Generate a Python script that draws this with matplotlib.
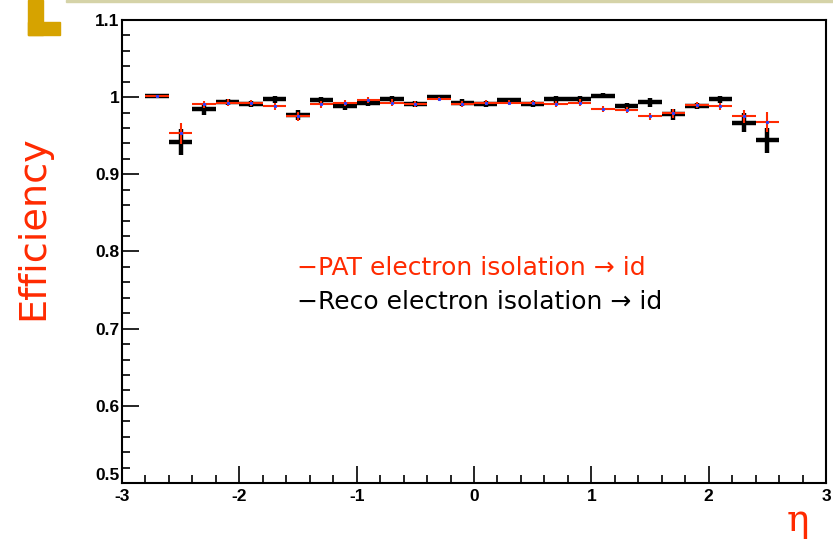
import matplotlib
matplotlib.use('Agg')
import matplotlib.pyplot as plt
from matplotlib.patches import Rectangle
from matplotlib.ticker import MultipleLocator

# eta bin centres (bin width 0.2)
eta = [-2.7, -2.5, -2.3, -2.1, -1.9, -1.7, -1.5, -1.3, -1.1, -0.9, -0.7, -0.5, -0.3, -0.1,
       0.1, 0.3, 0.5, 0.7, 0.9, 1.1, 1.3, 1.5, 1.7, 1.9, 2.1, 2.3, 2.5]

pat_eff = [1.001, 0.953, 0.9905, 0.993, 0.992, 0.988, 0.975, 0.9905, 0.992, 0.996, 0.993,
           0.991, 0.9975, 0.991, 0.993, 0.993, 0.993, 0.991, 0.993, 0.985, 0.983, 0.975,
           0.979, 0.990, 0.988, 0.975, 0.968]
pat_err = [0.002, 0.014, 0.005, 0.004, 0.004, 0.004, 0.006, 0.004, 0.004, 0.004, 0.004,
           0.004, 0.003, 0.004, 0.003, 0.003, 0.003, 0.004, 0.004, 0.004, 0.004, 0.005,
           0.006, 0.004, 0.004, 0.0085, 0.013]

reco_eff = [1.002, 0.942, 0.985, 0.994, 0.991, 0.997, 0.977, 0.996, 0.988, 0.992, 0.997,
            0.991, 0.9996, 0.993, 0.991, 0.996, 0.991, 0.997, 0.997, 1.002, 0.989, 0.9935,
            0.978, 0.989, 0.997, 0.967, 0.944]
reco_err = [0.002, 0.017, 0.008, 0.004, 0.004, 0.004, 0.007, 0.004, 0.004, 0.004, 0.004,
            0.004, 0.003, 0.004, 0.004, 0.003, 0.004, 0.004, 0.004, 0.003, 0.004, 0.006,
            0.007, 0.004, 0.004, 0.012, 0.016]

bin_half = 0.1

labels = ['\u2212PAT electron isolation \u2192 id', '\u2212Reco electron isolation \u2192 id']
red = '#ff2a00'

fig = plt.figure(figsize=(8.33, 5.39), dpi=100)
fig.patch.set_facecolor('white')

# slide decoration
fig.patches.append(Rectangle((28 / 833, 1 - 35 / 539), 15 / 833, 35 / 539,
                             transform=fig.transFigure, color='#d6a300', zorder=0))
fig.patches.append(Rectangle((28 / 833, 1 - 35 / 539), 32 / 833, 13 / 539,
                             transform=fig.transFigure, color='#d6a300', zorder=0))
fig.patches.append(Rectangle((66 / 833, 1 - 2 / 539), 767 / 833, 2 / 539,
                             transform=fig.transFigure, color='#d5d3a8', zorder=0))

ax = fig.add_axes([122 / 833, 56 / 539, 704 / 833, 463 / 539])

ax.errorbar(eta, reco_eff, xerr=bin_half, yerr=reco_err, fmt='none',
            ecolor='black', elinewidth=3.2, capsize=0, zorder=2)
ax.errorbar(eta, pat_eff, xerr=bin_half, yerr=pat_err, fmt='none',
            ecolor=red, elinewidth=1.5, capsize=0, zorder=3)
ax.plot(eta, pat_eff, ls='none', marker='s', ms=1.2, color='#3040ff', zorder=4)

ax.set_xlim(-3, 3)
ax.set_ylim(0.5, 1.1)
ax.xaxis.set_minor_locator(MultipleLocator(0.2))
ax.yaxis.set_minor_locator(MultipleLocator(0.02))
ax.set_yticks([0.5, 0.6, 0.7, 0.8, 0.9, 1.0, 1.1])
ax.set_yticklabels(['0.5', '0.6', '0.7', '0.8', '0.9', '1', '1.1'])
ax.set_xticks([-3, -2, -1, 0, 1, 2, 3])
ax.set_xticklabels(['-3', '-2', '-1', '0', '1', '2', '3'])

ax.tick_params(which='both', direction='in', top=False, right=False, width=1.2,
               labelsize=12.5, pad=2)
ax.tick_params(axis='x', which='major', pad=4)
ax.tick_params(which='major', length=12)
ax.tick_params(which='minor', length=6)
for lbl in ax.get_xticklabels() + ax.get_yticklabels():
    lbl.set_fontweight('bold')
    lbl.set_family('Liberation Sans')
# 0.5 label sits just above the -3 label, as in the original
ax.get_yticklabels()[0].set_va('bottom')
for sp in ax.spines.values():
    sp.set_linewidth(1.5)

fig.text(33 / 833, 1 - 228 / 539, 'Efficiency', color=red, fontsize=27.5,
         rotation=90, ha='center', va='center', family='DejaVu Sans')
fig.text(798 / 833, 1 - 521 / 539, '\u03b7', color=red, fontsize=27,
         ha='center', va='center', family='DejaVu Serif')

ax.text(0.248, 0.465, labels[0], transform=ax.transAxes, color=red, fontsize=18,
        ha='left', va='center', family='DejaVu Sans')
ax.text(0.248, 0.392, labels[1], transform=ax.transAxes, color='black', fontsize=18,
        ha='left', va='center', family='DejaVu Sans')

fig.savefig('out.png', dpi=100)
